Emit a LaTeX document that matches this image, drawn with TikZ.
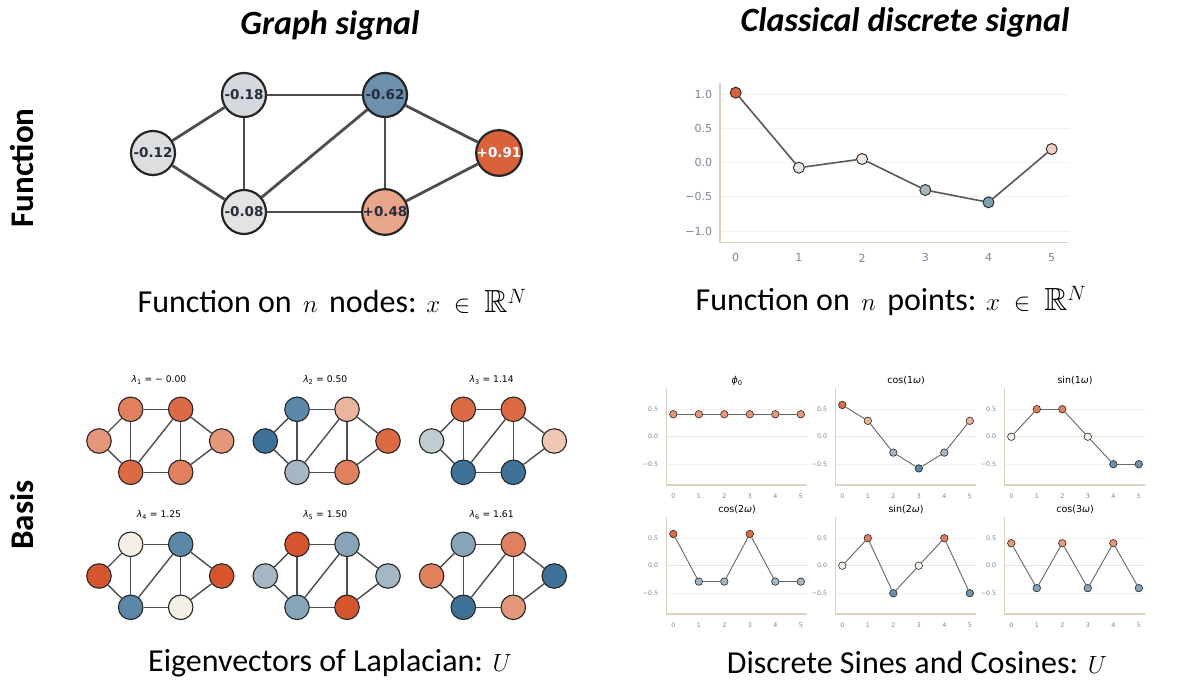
\documentclass[tikz,border=0pt]{standalone}
\usepackage{amssymb}
\usepackage{fontspec}
\setmainfont{Carlito}
\newfontfamily\plotfont{DejaVu Sans}
\usetikzlibrary{positioning}

\definecolor{edgegray}{HTML}{4D4D4D}
\definecolor{txtdark}{HTML}{262D3D}
\definecolor{tickgray}{HTML}{7A869B}
\definecolor{axistan}{HTML}{DDD2C2}
\definecolor{gridtan}{HTML}{F4F1EC}
\definecolor{zerotan}{HTML}{ECE6DA}
\definecolor{or1}{HTML}{D4552E}
\definecolor{or2}{HTML}{DC6B45}
\definecolor{or3}{HTML}{E0805F}
\definecolor{or4}{HTML}{E4977A}
\definecolor{or5}{HTML}{EBB59D}
\definecolor{or6}{HTML}{EFC8B4}
\definecolor{cream}{HTML}{F5F0E6}
\definecolor{bl6}{HTML}{C0CCD2}
\definecolor{bl5}{HTML}{A3B7C5}
\definecolor{bl4}{HTML}{86A5BA}
\definecolor{bl3}{HTML}{6B91AC}
\definecolor{bl2}{HTML}{5B88A8}
\definecolor{bl1}{HTML}{3F7299}
\definecolor{gA}{HTML}{DCDEDF}
\definecolor{gB}{HTML}{D3D9DC}
\definecolor{gD}{HTML}{D9623B}
\definecolor{gE}{HTML}{E3E4E1}
\definecolor{gF}{HTML}{E8A58A}
\definecolor{ptB}{HTML}{E7E5E0}
\definecolor{ptC}{HTML}{F3E8DE}
\definecolor{ptD}{HTML}{A3B7C3}
\definecolor{ptE}{HTML}{7D9DB0}
\definecolor{ptF}{HTML}{EFD0C0}

\begin{document}
\begin{tikzpicture}[x=1pt,y=-1pt,every node/.style={inner sep=0pt},
    bignode/.style={circle,draw=black!85,line width=2.2pt,minimum size=44pt,text=txtdark,font=\plotfont\bfseries\fontsize{13.5}{14}\selectfont},
    bigedge/.style={edgegray,line width=2.8pt},
    smallnode/.style={circle,draw=black!85,line width=1.1pt,minimum size=24.5pt},
    smalledge/.style={edgegray,line width=1.4pt},
    sigdot/.style={circle,draw=black!85,line width=0.9pt,minimum size=11pt},
    tinydot/.style={circle,draw=black!85,line width=0.6pt,minimum size=7.5pt},
    plotline/.style={black!65,line width=1.6pt},
    tinyline/.style={black!60,line width=0.9pt},
    axisline/.style={axistan,line width=1.4pt},
    gridline/.style={gridtan,line width=0.9pt},
    zeroline/.style={zerotan,line width=1.2pt},
    ticklab/.style={text=tickgray,font=\plotfont\fontsize{11}{11}\selectfont},
    tinylab/.style={text=tickgray,font=\plotfont\fontsize{6.3}{6.3}\selectfont},
    tinytitle/.style={font=\plotfont\fontsize{9.5}{10}\selectfont},
    eiglab/.style={font=\plotfont\fontsize{9.2}{10}\selectfont},
    heading/.style={font=\fontsize{34}{40}\selectfont\bfseries\itshape},
    captext/.style={font=\fontsize{32}{38}\selectfont},
    rowlab/.style={rotate=90,font=\fontsize{33}{38}\selectfont\bfseries}]

\fill[white] (0,0) rectangle (1179,693);
\useasboundingbox (0,0) rectangle (1179,693);

\node[heading] (gtitle) at (330,25) {Graph signal};
\node[heading] (ctitle) at (905,22) {Classical discrete signal};
\node[rowlab] (rowf) at (22,168) {Function};
\node[rowlab] (rowb) at (22,515) {Basis};

% graph signal
\node[bignode,fill=gA] (n1) at (153,153) {-0.12};
\node[bignode,fill=gB] (n2) at (244,95) {-0.18};
\node[bignode,fill=bl3] (n3) at (385,95) {-0.62};
\node[bignode,fill=gD,text=white] (n4) at (499,153) {+0.91};
\node[bignode,fill=gE] (n5) at (244,212) {-0.08};
\node[bignode,fill=gF] (n6) at (385,212) {+0.48};
\foreach \a/\b in {n1/n2,n1/n5,n2/n3,n2/n5,n5/n3,n5/n6,n3/n6,n3/n4,n6/n4}
  \draw[bigedge] (\a) -- (\b);
\node[captext] (cap1) at (332,301) {Function on $\,n\,$ nodes: $x\;\in\;\mathbb{R}^{N}$};

% classical signal
\begin{scope}[shift={(735.7,162.7)},x=63.2pt,y=68.3pt]
  \foreach \t/\s [count=\j] in {1/1.0,0.5/0.5,0/0.0,-0.5/−0.5,-1/−1.0} {
    \draw[gridline] (-0.25,\t) -- (5.25,\t);
    \node[ticklab,anchor=east] (ty\j) at (-0.37,\t) {\s};
  }
  \draw[axisline] (-0.25,1.17) -- (-0.25,-1.17) -- (5.25,-1.17);
  \foreach \i in {0,...,5}
    \node[ticklab] (tx\i) at (\i,-1.395) {\i};
  \foreach \i/\v/\c in {0/1.025/gD,1/-0.073/ptB,2/0.054/ptC,3/-0.40/ptD,4/-0.58/ptE,5/0.20/ptF}
    \node[sigdot,fill=\c] (p\i) at (\i,\v) {};
  \foreach \i [evaluate=\i as \j using int(\i+1)] in {0,...,4}
    \draw[plotline] (p\i) -- (p\j);
\end{scope}
\node[captext] (cap2) at (891,301) {Function on $\,n\,$ points: $x\;\in\;\mathbb{R}^{N}$};

% eigenvectors
\foreach \k/\px/\py/\lab/\ca/\cb/\cc/\cd/\ce/\cf in {
    1/0/0/{= − 0.00}/or4/or3/or2/or4/or2/or3,
    2/1/0/{= 0.50}/bl1/bl2/or5/or2/bl5/or3,
    3/2/0/{= 1.14}/bl6/or2/or2/or6/bl1/bl1,
    4/0/1/{= 1.25}/or1/cream/bl2/or1/bl2/cream,
    5/1/1/{= 1.50}/bl5/or1/bl4/bl5/bl4/or1,
    6/2/1/{= 1.61}/or3/bl4/or3/bl1/bl1/or4} {
  \begin{scope}[shift={(166.3*\px,135*\py)}]
    \node[eiglab] (lam\k) at (159,380) {{\itshape λ}\textsubscript{\k} \lab};
    \node[smallnode,fill=\ca] (e\k a) at (99,441) {};
    \node[smallnode,fill=\cb] (e\k b) at (130.7,409.3) {};
    \node[smallnode,fill=\cc] (e\k c) at (180.7,409.3) {};
    \node[smallnode,fill=\cd] (e\k d) at (221.7,441) {};
    \node[smallnode,fill=\ce] (e\k e) at (130.7,472.3) {};
    \node[smallnode,fill=\cf] (e\k f) at (180.7,472.3) {};
    \foreach \a/\b in {a/b,a/e,b/c,b/e,e/c,e/f,c/f,c/d,f/d}
      \draw[smalledge] (e\k\a) -- (e\k\b);
  \end{scope}
}
\node[captext] (cap3) at (330,663) {Eigenvectors of Laplacian: $U$};

% sines and cosines
\foreach \k/\px/\py/\ttl/\vals in {
    1/0/0/{{\itshape ϕ}\textsubscript{0}}/{0.408/or4,0.408/or4,0.408/or4,0.408/or4,0.408/or4,0.408/or4},
    2/1/0/{cos(1{\itshape ω})}/{0.577/or2,0.289/or5,-0.289/bl5,-0.577/bl2,-0.289/bl5,0.289/or5},
    3/2/0/{sin(1{\itshape ω})}/{0/cream,0.5/or3,0.5/or3,0/cream,-0.5/bl3,-0.5/bl3},
    4/0/1/{cos(2{\itshape ω})}/{0.577/or2,-0.289/bl5,-0.289/bl5,0.577/or2,-0.289/bl5,-0.289/bl5},
    5/1/1/{sin(2{\itshape ω})}/{0/cream,0.5/or3,-0.5/bl3,0/cream,0.5/or3,-0.5/bl3},
    6/2/1/{cos(3{\itshape ω})}/{0.408/or4,-0.408/bl4,0.408/or4,-0.408/bl4,0.408/or4,-0.408/bl4}} {
  \begin{scope}[shift={(673.3+169*\px,436.7+129*\py)},x=25.5pt,y=55pt]
    \draw[gridline] (-0.26,0.5) -- (5.25,0.5) (-0.26,-0.5) -- (5.25,-0.5);
    \draw[zeroline] (-0.26,0) -- (5.25,0);
    \draw[axisline] (-0.26,0.88) -- (-0.26,-0.88) -- (5.25,-0.88);
    \node[tinytitle] (st\k) at (2.5,1.02) {\ttl};
    \foreach \t/\s [count=\j] in {0.5/0.5,0/0.0,-0.5/−0.5}
      \node[tinylab,anchor=east] (sy\k-\j) at (-0.59,\t) {\s};
    \foreach \i in {0,...,5}
      \node[tinylab] (sx\k-\i) at (\i,-1.08) {\i};
    \foreach \v/\c [count=\i from 0] in \vals
      \node[tinydot,fill=\c] (s\k-\i) at (\i,\v) {};
    \foreach \i [evaluate=\i as \j using int(\i+1)] in {0,...,4}
      \draw[tinyline] (s\k-\i) -- (s\k-\j);
  \end{scope}
}
\node[captext] (cap4) at (917,663) {Discrete Sines and Cosines: $U$};
\end{tikzpicture}
\end{document}
